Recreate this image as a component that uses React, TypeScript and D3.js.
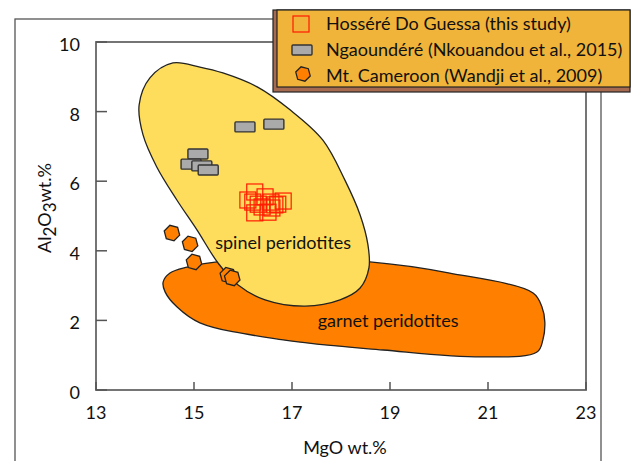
import React from "react";
import * as d3 from "d3";

// ---- data (MgO wt.%, Al2O3 wt.%) ----
const hosseMgO = [16.24, 16.45, 16.2, 16.31, 16.57, 16.82, 16.71, 16.24, 16.59, 16.39, 16.65, 16.1, 16.51];
const hosseAl = [5.69, 5.55, 5.4, 5.34, 5.4, 5.43, 5.34, 5.09, 5.23, 5.26, 5.32, 5.46, 5.11];

const ngaMgO = [16.04, 16.63, 15.08, 14.94, 15.16, 15.29];
const ngaAl = [7.56, 7.64, 6.78, 6.49, 6.44, 6.32];

const camMgO = [14.55, 14.92, 15.0, 15.69, 15.78];
const camAl = [4.51, 4.2, 3.68, 3.3, 3.22];

const spinelMgO = [14.57, 15.12, 15.59, 16.29, 16.96, 17.63, 18.08, 18.39, 18.55, 18.57, 18.39, 17.98, 17.27, 16.45, 15.9, 15.49, 15.06, 14.65, 14.24, 13.96, 13.88, 14.1];
const spinelAl = [9.4, 9.28, 9.11, 8.71, 8.05, 7.18, 6.03, 5.03, 4.17, 3.51, 2.93, 2.59, 2.41, 2.59, 3.02, 3.65, 4.6, 5.46, 6.41, 7.33, 8.19, 8.97];

const garnetMgO = [14.37, 14.51, 14.86, 15.47, 17.16, 18.59, 20.22, 21.92, 22.1, 22.16, 22.12, 22.0, 20.9, 18.86, 16.82, 15.12, 14.65, 14.41];
const garnetAl = [3.1, 3.36, 3.53, 3.68, 3.74, 3.68, 3.36, 2.79, 2.39, 1.95, 1.44, 1.09, 0.95, 1.15, 1.44, 1.93, 2.39, 2.82];

const xTicks = [13, 15, 17, 19, 21, 23];
const yTicks = [0, 2, 4, 6, 8, 10];

const legendLabels = [
  "Hosséré Do Guessa (this study)",
  "Ngaoundéré (Nkouandou et al., 2015)",
  "Mt. Cameroon (Wandji et al., 2009)",
];
const regionLabels = ["spinel peridotites", "garnet peridotites"];
const regionLabelMgO = [16.82, 18.96];
const regionLabelAl = [4.25, 2.01];

const FONT = "Lato, 'Open Sans', sans-serif";

function hexPath(cx: number, cy: number, r: number) {
  const pts: [number, number][] = d3.range(6).map((i) => {
    const a = (Math.PI / 3) * i + Math.PI / 12;
    return [cx + r * Math.cos(a), cy + r * Math.sin(a)];
  });
  return d3.line().curve(d3.curveLinearClosed)(pts) as string;
}

export default function App() {
  const W = 636;
  const H = 461;
  const x = d3.scaleLinear().domain([13, 23]).range([96, 586]);
  const y = d3.scaleLinear().domain([0, 10]).range([390, 42]);

  const region = d3
    .line<[number, number]>()
    .x((d) => x(d[0]))
    .y((d) => y(d[1]))
    .curve(d3.curveCatmullRomClosed.alpha(0.5));

  const spinel = spinelMgO.map((m, i) => [m, spinelAl[i]] as [number, number]);
  const garnet = garnetMgO.map((m, i) => [m, garnetAl[i]] as [number, number]);

  const sq = 16;
  const rw = 20;
  const rh = 10;

  return (
    <svg
      width={W}
      height={H}
      style={{ position: "absolute", left: 0, top: 0, background: "#fff" }}
      fontFamily={FONT}
    >
      {/* outer frame */}
      <rect x={15} y={19} width={586} height={460} fill="none" stroke="#555" strokeWidth={1.3} />

      {/* regions */}
      <path d={region(garnet) as string} fill="#FF8000" stroke="#222" strokeWidth={1.3} />
      <path d={region(spinel) as string} fill="#FEDD5C" stroke="#222" strokeWidth={1.3} />

      {regionLabels.map((t, i) => (
        <text
          key={t}
          x={x(regionLabelMgO[i])}
          y={y(regionLabelAl[i])}
          textAnchor="middle"
          dominantBaseline="central"
          fontSize={18}
          fill="#111"
        >
          {t}
        </text>
      ))}

      {/* Ngaoundéré */}
      {ngaMgO.map((m, i) => (
        <rect
          key={"n" + i}
          x={x(m) - rw / 2}
          y={y(ngaAl[i]) - rh / 2}
          width={rw}
          height={rh}
          rx={1}
          fill="#AAAAAA"
          stroke="#333"
          strokeWidth={1.4}
        />
      ))}

      {/* Hosséré Do Guessa */}
      {hosseMgO.map((m, i) => (
        <rect
          key={"h" + i}
          x={x(m) - sq / 2}
          y={y(hosseAl[i]) - sq / 2}
          width={sq}
          height={sq}
          fill="none"
          stroke="#FF1A00"
          strokeWidth={1.2}
        />
      ))}

      {/* Mt. Cameroon */}
      {camMgO.map((m, i) => (
        <path key={"c" + i} d={hexPath(x(m), y(camAl[i]), 8)} fill="#FF8000" stroke="#222" strokeWidth={1.3} />
      ))}

      {/* plot frame */}
      <rect x={x(13)} y={y(10)} width={x(23) - x(13)} height={y(0) - y(10)} fill="none" stroke="#666" strokeWidth={1.8} />
      {yTicks.map((t) => (
        <g key={"yt" + t}>
          <line x1={x(13)} x2={x(13) + 11} y1={y(t)} y2={y(t)} stroke="#555" strokeWidth={1.5} />
          <text x={80} y={y(t) + 2} textAnchor="end" dominantBaseline="central" fontSize={18} fill="#111">
            {t}
          </text>
        </g>
      ))}
      {xTicks.map((t) => (
        <g key={"xt" + t}>
          <line x1={x(t)} x2={x(t)} y1={y(0)} y2={y(0) - 8} stroke="#555" strokeWidth={1.5} />
          <text x={x(t)} y={412} textAnchor="middle" dominantBaseline="central" fontSize={18} fill="#111">
            {t}
          </text>
        </g>
      ))}

      {/* axis titles */}
      <text x={345} y={447} textAnchor="middle" dominantBaseline="central" fontSize={18} fill="#111">
        MgO wt.%
      </text>
      <text
        transform="translate(51,208) rotate(-90)"
        textAnchor="middle"
        fontSize={18}
        fill="#111"
      >
        Al<tspan dy={5} fontSize={17}>2</tspan>
        <tspan dy={-5}>O</tspan>
        <tspan dy={5} fontSize={17}>3</tspan>
        <tspan dy={-5}>wt.%</tspan>
      </text>

      {/* legend */}
      <rect x={273} y={10} width={357} height={82} fill="#A66A50" stroke="#222" strokeWidth={1.2} />
      <rect x={277} y={10} width={353} height={77} fill="#F0B43A" stroke="#222" strokeWidth={1.2} />
      <rect x={293} y={16} width={16} height={16} fill="none" stroke="#FF1A00" strokeWidth={1.2} />
      <rect x={292} y={45} width={20} height={10} rx={1} fill="#AAAAAA" stroke="#333" strokeWidth={1.4} />
      <path d={hexPath(303, 74, 7.5)} fill="#FF8000" stroke="#222" strokeWidth={1.3} />
      {legendLabels.map((t, i) => (
        <text key={t} x={326} y={23 + i * 26} dominantBaseline="central" fontSize={18} fill="#111">
          {t}
        </text>
      ))}
    </svg>
  );
}
